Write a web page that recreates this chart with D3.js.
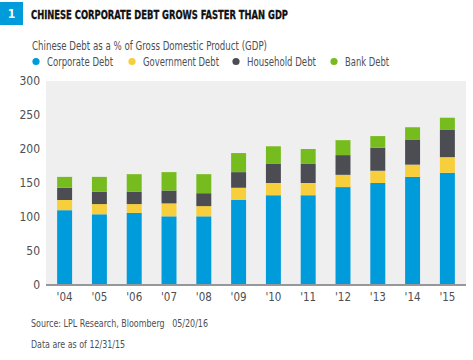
<!DOCTYPE html>
<html><head><meta charset="utf-8">
<script src="https://cdn.jsdelivr.net/npm/d3@7"></script>
<style>
body{margin:0;background:#fff;}
svg{display:block;font-family:"Liberation Sans Narrow","DejaVu Sans Condensed","Arial Narrow",sans-serif;}
</style></head><body>
<svg id="chart" width="473" height="360"></svg>
<script>
const years = ["'04","'05","'06","'07","'08","'09","'10","'11","'12","'13","'14","'15"];
const corporate = [110,104,106,101,101,125,132,132,144,150,159,165];
const government = [15,15,13,19,15,18,18,18,18,18,18,23];
const household = [18,18,18,19,19,23,28,28,29,34,37,40];
const bank = [16,22,26,27,28,28,26,22,22,17,18,18];
const seriesNames = ["Corporate Debt","Government Debt","Household Debt","Bank Debt"];
const yTicks = [0,50,100,150,200,250,300];
const colors = ["#009bdb","#f7cf3c","#4b4d52","#77bc1f"];

const svg = d3.select("#chart");
const textCol = "#4d4f53";

// title
svg.append("rect").attr("x",0).attr("y",2).attr("width",23).attr("height",23).attr("fill","#009bdb");
svg.append("text").attr("x",11.5).attr("y",18).attr("text-anchor","middle").attr("fill","#fff")
  .attr("font-weight","bold").attr("font-size",12).text("1");
svg.append("text").attr("x",31).attr("y",19).attr("fill","#111").attr("font-weight","bold")
  .attr("font-size",12).attr("textLength",257).attr("lengthAdjust","spacingAndGlyphs")
  .attr("stroke","#111").attr("stroke-width",0.3)
  .text("CHINESE CORPORATE DEBT GROWS FASTER THAN GDP");

svg.append("text").attr("x",32).attr("y",50).attr("fill",textCol).attr("font-size",11.5)
  .attr("textLength",235).attr("lengthAdjust","spacingAndGlyphs")
  .text("Chinese Debt as a % of Gross Domestic Product (GDP)");

// legend
const legX = [36,132,236,334];
const legW = [66,76,69,44];
seriesNames.forEach((n,i)=>{
  svg.append("circle").attr("cx",legX[i]).attr("cy",61.5).attr("r",3.6).attr("fill",colors[i]);
  svg.append("text").attr("x",legX[i]+11).attr("y",65.5).attr("fill",textCol).attr("font-size",11.5)
    .attr("textLength",legW[i]).attr("lengthAdjust","spacingAndGlyphs").text(n);
});

// plot
const pLeft=46, pRight=466, pTop=81, pBottom=285;
const x = d3.scaleBand().domain(years).range([pLeft,pRight]).paddingInner(0.57).paddingOuter(0.32);
const y = d3.scaleLinear().domain([0,300]).range([pBottom,pTop]);

svg.append("rect").attr("x",pLeft).attr("y",pTop).attr("width",pRight-pLeft).attr("height",pBottom-pTop).attr("fill","#efefef");

const rows = years.map((yr,i)=>({year:yr,c:corporate[i],g:government[i],h:household[i],b:bank[i]}));
const stack = d3.stack().keys(["c","g","h","b"])(rows);
svg.append("g").selectAll("g").data(stack).join("g").attr("fill",(d,i)=>colors[i])
  .selectAll("rect").data(d=>d).join("rect")
  .attr("x",d=>x(d.data.year)).attr("width",x.bandwidth())
  .attr("y",d=>y(d[1])).attr("height",d=>y(d[0])-y(d[1]));

// axis line
svg.append("line").attr("x1",pLeft).attr("x2",pRight).attr("y1",pBottom).attr("y2",pBottom)
  .attr("stroke","#96979a").attr("stroke-width",2);

// y axis
const ya = svg.append("g").attr("transform",`translate(${pLeft},0)`)
  .call(d3.axisLeft(y).tickValues(yTicks).tickSize(0).tickPadding(6));
ya.select(".domain").remove();
ya.selectAll("text").attr("fill",textCol).attr("font-size",12)
  .style("font-family","'Liberation Sans Narrow','DejaVu Sans Condensed',sans-serif");

// x axis
const xa = svg.append("g").attr("transform",`translate(0,${pBottom})`)
  .call(d3.axisBottom(x).tickSize(0).tickPadding(8));
xa.select(".domain").remove();
xa.selectAll("text").attr("fill",textCol).attr("font-size",11.5)
  .style("font-family","'Liberation Sans Narrow','DejaVu Sans Condensed',sans-serif");

svg.append("text").attr("x",31).attr("y",327).attr("fill",textCol).attr("font-size",11)
  .attr("textLength",177).attr("lengthAdjust","spacingAndGlyphs").style("white-space","pre")
  .text("Source: LPL Research, Bloomberg   05/20/16");
svg.append("text").attr("x",31).attr("y",348).attr("fill",textCol).attr("font-size",11)
  .attr("textLength",94).attr("lengthAdjust","spacingAndGlyphs")
  .text("Data are as of 12/31/15");
</script></body></html>
